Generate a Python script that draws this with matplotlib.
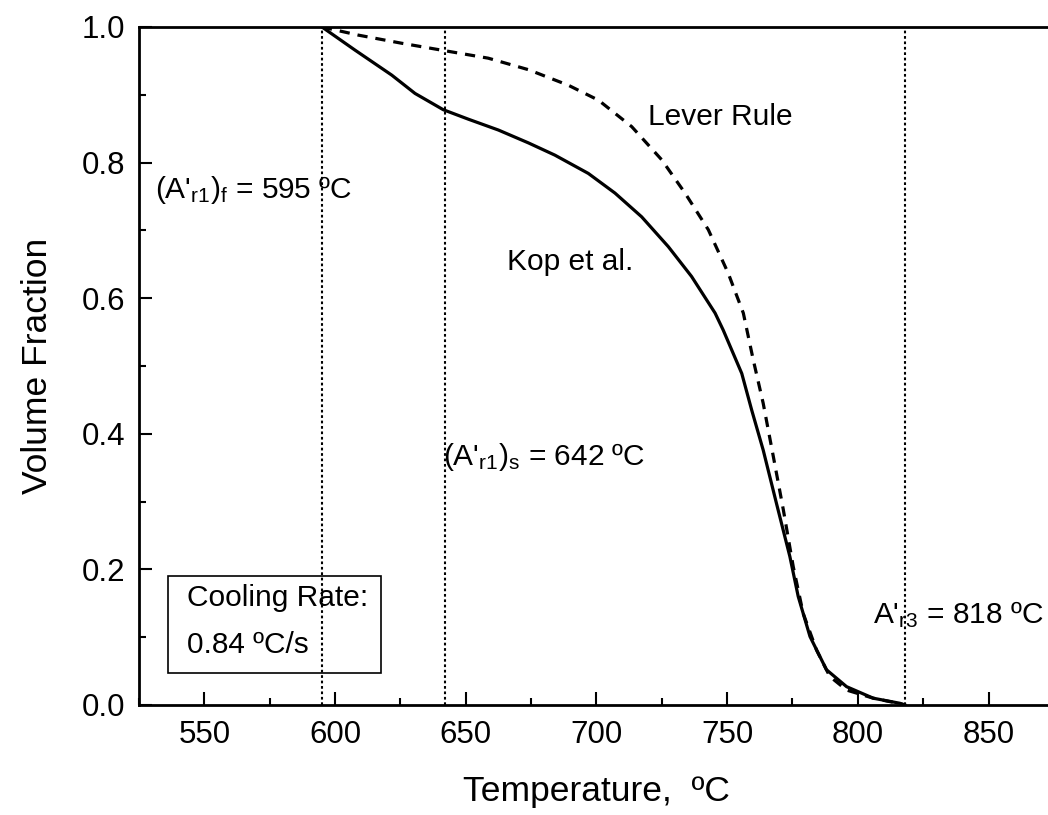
import matplotlib
matplotlib.use("Agg")
from matplotlib import pyplot as plt
from matplotlib.patches import Rectangle
from matplotlib.ticker import MultipleLocator

plt.rcParams["font.family"] = ["Liberation Sans", "DejaVu Sans"]
plt.rcParams["mathtext.fontset"] = "custom"
plt.rcParams["mathtext.rm"] = "Liberation Sans"
plt.rcParams["mathtext.it"] = "Liberation Sans"

# Kop et al. model (solid)
kop_T = [595, 607.6, 621.7, 630.6, 641.4, 651, 662.5, 674, 684.1, 696.9, 707.1,
         717.3, 727.5, 736.4, 745.4, 748.5, 755.6, 759.4, 763.8, 768.9, 774,
         777.2, 781.7, 788, 795.7, 805.9, 816.1, 818]
kop_f = [1.0, 0.966, 0.929, 0.902, 0.878, 0.864, 0.848, 0.829, 0.811, 0.784, 0.755,
         0.720, 0.676, 0.632, 0.578, 0.553, 0.489, 0.435, 0.376, 0.297, 0.219,
         0.160, 0.101, 0.052, 0.027, 0.010, 0.0025, 0.0]

# Lever rule (dashed)
lever_T = [595, 608.9, 625.5, 642, 658.6, 674, 689.3, 700.8, 713.5, 725, 733.9,
           742.8, 750.4, 756.2, 760.0, 763.8, 767.7, 771.5, 775.3, 779.1, 784.2,
           789.3, 795.7, 805.9, 816, 818]
lever_f = [1.0, 0.988, 0.976, 0.965, 0.954, 0.937, 0.914, 0.892, 0.853, 0.804, 0.755,
           0.701, 0.637, 0.578, 0.509, 0.445, 0.366, 0.288, 0.204, 0.135, 0.081,
           0.042, 0.022, 0.010, 0.002, 0.0]

crit_T = [595, 642, 818]

fig = plt.figure(figsize=(10.48, 8.15), dpi=100)
ax = fig.add_axes([0.1326, 0.135, 0.873, 0.8319])

for t in crit_T:
    ax.plot([t, t], [0, 1], color="black", linestyle=(0, (1.3, 1.3)), linewidth=1.5)

ax.plot(kop_T, kop_f, color="black", linewidth=2.3)
ax.plot(lever_T, lever_f, color="black", linewidth=2.3, linestyle=(0, (3.2, 2.5)))

ax.set_xlim(525, 875)
ax.set_ylim(0, 1.0)
ax.xaxis.set_major_locator(MultipleLocator(50))
ax.xaxis.set_minor_locator(MultipleLocator(25))
ax.yaxis.set_major_locator(MultipleLocator(0.2))
ax.yaxis.set_minor_locator(MultipleLocator(0.1))
ax.yaxis.set_major_formatter(plt.FormatStrFormatter("%.1f"))
ax.tick_params(which="major", direction="in", length=9.5, width=1.5, labelsize=22.5)
ax.tick_params(which="minor", direction="in", length=5, width=1.5)
ax.tick_params(axis="y", pad=10)
ax.tick_params(axis="x", pad=11)
ax.spines["right"].set_visible(False)
for s in ["left", "top", "bottom"]:
    ax.spines[s].set_linewidth(2)

ax.set_xlabel("Temperature,  ºC", fontsize=25.5, labelpad=18)
ax.set_ylabel("Volume Fraction", fontsize=25.5, labelpad=20)

fs = 21.5
ax.text(531, 0.76, r"(A'$_{\mathrm{r1}}$)$_{\mathrm{f}}$ = 595 ºC", fontsize=fs, va="center")
ax.text(641.3, 0.366, r"(A'$_{\mathrm{r1}}$)$_{\mathrm{s}}$ = 642 ºC", fontsize=fs, va="center")
ax.text(805.8, 0.133, r"A'$_{\mathrm{r3}}$ = 818 ºC", fontsize=fs, va="center")
ax.text(719.7, 0.867, "Lever Rule", fontsize=fs, va="center")
ax.text(665.8, 0.653, "Kop et al.", fontsize=fs, va="center")

ax.add_patch(Rectangle((536.1, 0.047), 81.5, 0.143, fill=False, edgecolor="black", linewidth=1.2, zorder=3))
ax.text(543.3, 0.158, "Cooling Rate:", fontsize=fs, va="center")
ax.text(543.3, 0.088, "0.84 ºC/s", fontsize=fs, va="center")

fig.savefig("out.png", dpi=100)
